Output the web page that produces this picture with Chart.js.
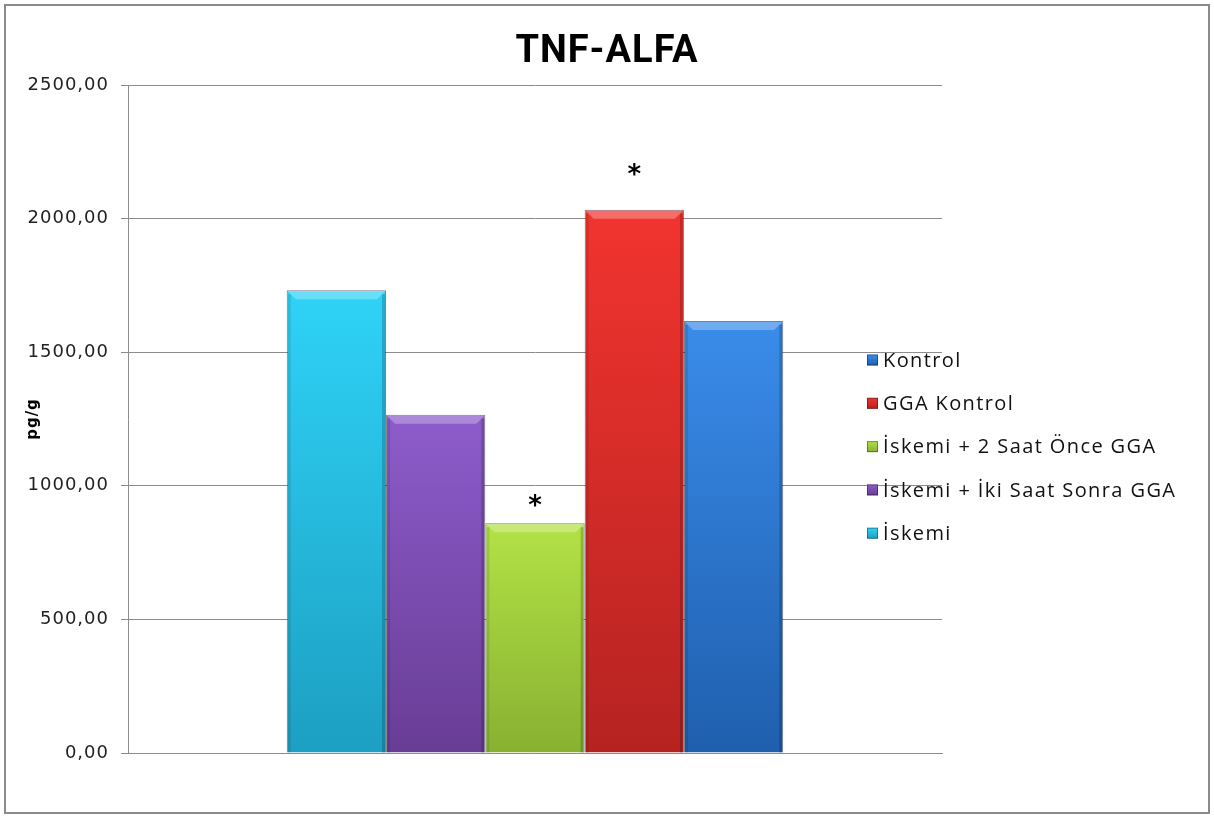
<!DOCTYPE html>
<html>
<head>
<meta charset="utf-8">
<script src="https://cdn.jsdelivr.net/npm/chart.js@4"></script>
<style>
  html, body { margin: 0; padding: 0; background: #fff; }
  #wrap { width: 1214px; height: 817px; }
</style>
</head>
<body>
<div id="wrap"><canvas id="tnfChart" width="1214" height="817"></canvas></div>
<script>
// values
const categories = ['TNF-ALFA'];
const seriesNames = ['İskemi', 'İskemi + İki Saat Sonra GGA', 'İskemi + 2 Saat Önce GGA', 'GGA Kontrol', 'Kontrol'];
const seriesValues = [1732, 1266, 860, 2033, 1617];
const significance = ['', '', '*', '*', ''];
const yTicks = [0, 500, 1000, 1500, 2000, 2500];

const topColors = ['#2fd3f7', '#8d5ccb', '#b2e246', '#f2342f', '#3a8cea'];
const bottomColors = ['#1c9fc2', '#683d95', '#88b131', '#b52321', '#1f5fae'];
const starOffsets = [0, 0, 20, 38, 0];

function fmt(v) {
    return v.toFixed(2).replace('.', ',');
}

function barGradient(i) {
    return (ctx) => {
        const chart = ctx.chart;
        const area = chart.chartArea;
        if (!area || ctx.type !== 'data') return topColors[i];
        const yTop = chart.scales.y.getPixelForValue(ctx.parsed.y);
        const g = chart.ctx.createLinearGradient(0, yTop, 0, area.bottom);
        g.addColorStop(0, topColors[i]);
        g.addColorStop(1, bottomColors[i]);
        return g;
    };
}

const datasets = seriesNames.map((name, i) => ({
    label: name,
    data: [seriesValues[i]],
    backgroundColor: barGradient(i),
    borderColor: 'rgba(20,20,40,0.55)',
    borderWidth: 1,
    categoryPercentage: 0.61,
    barPercentage: 1.0
}));

// white background + outer frame, and the wide letter spacing of the original text
const framePlugin = {
    id: 'frame',
    beforeDraw(chart) {
        const c = chart.ctx;
        c.save();
        c.fillStyle = '#fff';
        c.fillRect(0, 0, chart.width, chart.height);
        c.strokeStyle = '#8a8a8a';
        c.lineWidth = 2;
        c.strokeRect(5, 5, chart.width - 10, chart.height - 9);
        c.restore();
        c.letterSpacing = '1px';
    }
};

// bevel highlight on bars + significance stars
const barExtras = {
    id: 'barExtras',
    afterDatasetsDraw(chart) {
        const c = chart.ctx;
        c.save();
        chart.data.datasets.forEach((ds, i) => {
            const meta = chart.getDatasetMeta(i);
            meta.data.forEach(bar => {
                const left = bar.x - bar.width / 2;
                const right = bar.x + bar.width / 2;
                const top = bar.y;
                const bevel = 9;
                c.fillStyle = 'rgba(255,255,255,0.28)';
                c.beginPath();
                c.moveTo(left + 1, top + 1);
                c.lineTo(right - 1, top + 1);
                c.lineTo(right - bevel, top + bevel);
                c.lineTo(left + bevel, top + bevel);
                c.closePath();
                c.fill();
                c.fillStyle = 'rgba(0,0,0,0.18)';
                c.fillRect(right - 4, top + 4, 3, bar.base - top - 4);
                c.fillStyle = 'rgba(0,0,0,0.10)';
                c.fillRect(left + 1, top + 4, 3, bar.base - top - 4);
                if (significance[i]) {
                    c.fillStyle = '#000';
                    c.font = 'bold 26px "DejaVu Sans"';
                    c.textAlign = 'center';
                    c.textBaseline = 'middle';
                    c.letterSpacing = '0px';
                    c.fillText(significance[i], bar.x, top - starOffsets[i] + 4);
                }
            });
        });
        c.restore();
    }
};

// legend drawn over the right side, reversed order like the original
const sideLegend = {
    id: 'sideLegend',
    afterDraw(chart, args, opts) {
        const c = chart.ctx;
        c.save();
        c.font = opts.font;
        c.letterSpacing = opts.spacing;
        c.textBaseline = 'middle';
        c.textAlign = 'left';
        const n = chart.data.datasets.length;
        for (let k = 0; k < n; k++) {
            const i = n - 1 - k;
            const y = opts.y + k * opts.rowGap;
            const g = c.createLinearGradient(0, y - opts.box / 2, 0, y + opts.box / 2);
            g.addColorStop(0, topColors[i]);
            g.addColorStop(1, bottomColors[i]);
            c.fillStyle = g;
            c.fillRect(opts.x, y - opts.box / 2, opts.box, opts.box);
            c.strokeStyle = 'rgba(0,0,0,0.35)';
            c.lineWidth = 1;
            c.strokeRect(opts.x + 0.5, y - opts.box / 2 + 0.5, opts.box - 1, opts.box - 1);
            c.fillStyle = '#111';
            c.fillText(chart.data.datasets[i].label, opts.x + opts.box + 5, y + 1);
        }
        c.restore();
    }
};

const ctx = document.getElementById('tnfChart').getContext('2d');

const tnfChart = new Chart(ctx, {
    type: 'bar',
    data: {
        labels: categories,
        datasets: datasets
    },
    plugins: [framePlugin, barExtras, sideLegend],
    options: {
        responsive: false,
        animation: false,
        layout: {
            padding: { left: 0, right: 0, top: 0, bottom: 64 }
        },
        plugins: {
            legend: { display: false },
            tooltip: { enabled: false },
            title: {
                display: true,
                text: 'TNF-ALFA',
                color: '#000',
                font: { family: 'Roboto', size: 38, weight: 'bold', lineHeight: 1.2 },
                padding: { top: 30, bottom: 9.4 }
            },
            sideLegend: {
                x: 867,
                y: 360,
                rowGap: 43.3,
                box: 11,
                font: '20px "Open Sans"',
                spacing: '1.4px'
            }
        },
        scales: {
            x: {
                ticks: { display: false },
                grid: { display: false },
                border: { display: true, color: '#8c8c8c' },
                afterFit: s => { s.height = 0; }
            },
            y: {
                min: 0,
                max: 2500,
                afterBuildTicks: s => { s.ticks = yTicks.map(v => ({ value: v })); },
                ticks: {
                    callback: v => fmt(v),
                    color: '#222',
                    font: { family: 'DejaVu Sans', size: 18 },
                    padding: 12
                },
                grid: { color: '#8c8c8c', tickLength: 7, lineWidth: 1 },
                border: { display: true, color: '#8c8c8c' },
                title: {
                    display: true,
                    text: 'pg/g',
                    color: '#000',
                    font: { family: 'DejaVu Sans', size: 15, weight: 'bold' },
                    padding: { top: 24, bottom: 0 }
                },
                afterFit: s => { s.width = 128; }
            },
            // empty right-hand scale that only reserves room for the legend
            yRight: {
                position: 'right',
                display: true,
                ticks: { display: false },
                grid: { display: false },
                border: { display: false },
                afterFit: s => { s.width = 272; }
            }
        }
    }
});
</script>
</body>
</html>
